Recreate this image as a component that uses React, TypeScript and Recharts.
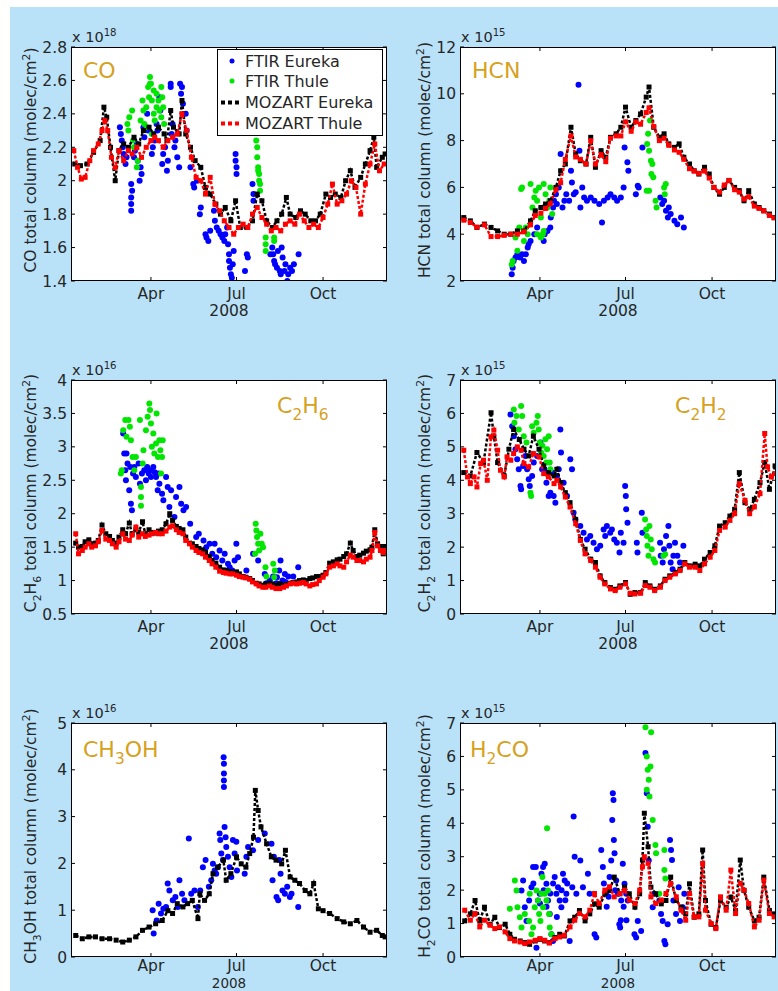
import React from 'react';
import { ScatterChart, Scatter, XAxis, YAxis } from 'recharts';

type Pt = [number, number];
type Seg = [string, number]; // text, 0 normal / 1 sub / -1 super

const FONT = '"DejaVu Sans", "Liberation Sans", Arial, sans-serif';
const INK = '#262626';
const GOLD = '#d6a11e';
const BG = '#b9e2f9';

// x axis: day of year 2008
const X_DOMAIN: [number, number] = [7, 343];
const MONTH_TICKS = [92, 183, 275];
const MONTH_LABELS = ['Apr', 'Jul', 'Oct'];
const YEAR = '2008';

// ---------------- CO ----------------
const coFtirEureka: Pt[] = [
  [59, 2.32], [60, 2.28], [61, 2.24], [62, 2.2], [63, 2.16], [65, 2.1], [66, 2.14], [71, 1.98], [71, 1.9], [71, 1.82],
  [71, 1.86], [72, 1.94], [74, 2.14], [75, 2.18], [77, 2.22], [78, 2.12], [80, 2.0], [81, 2.08], [82, 2.04], [84, 2.32],
  [85, 2.26], [88, 2.4], [89, 2.3], [93, 2.16], [94, 2.2], [96, 2.24], [98, 2.34], [99, 2.3], [101, 2.5], [102, 2.42],
  [104, 2.1], [105, 2.16], [107, 2.2], [109, 2.06], [110, 2.12], [113, 2.58], [113, 2.56], [114, 2.28], [115, 2.34],
  [117, 2.2], [118, 2.24], [120, 2.14], [122, 2.08], [123, 2.58], [124, 2.52], [125, 2.56], [126, 2.46], [129, 2.4],
  [130, 2.3], [134, 2.08], [137, 1.98], [138, 1.96], [141, 2.0], [144, 1.8], [145, 1.84], [150, 1.68], [151, 1.66],
  [153, 1.64], [155, 1.7], [159, 1.82], [160, 1.76], [162, 1.72], [164, 1.7], [166, 1.68], [168, 1.66], [170, 1.64],
  [171, 1.68], [173, 1.72], [174, 1.62], [175, 1.56], [175, 1.52], [176, 1.48], [177, 1.44], [178, 1.42], [179, 1.5],
  [180, 1.58], [182, 2.16], [182, 2.12], [183, 2.08], [183, 2.04], [192, 1.46], [194, 1.56], [195, 1.54], [200, 1.98],
  [201, 1.88], [201, 1.92], [219, 1.56], [221, 1.6], [222, 1.56], [223, 1.52], [224, 1.5], [226, 1.48], [227, 1.58],
  [229, 1.46], [230, 1.44], [231, 1.6], [232, 1.54], [234, 1.46], [235, 1.5], [237, 1.4], [238, 1.44], [240, 1.48],
  [242, 1.46], [244, 1.5], [249, 1.56],
];
const coFtirThule: Pt[] = [
  [67, 2.34], [68, 2.3], [69, 2.38], [72, 2.42], [73, 2.24], [74, 2.2], [77, 2.08], [78, 2.12], [81, 2.36], [83, 2.48],
  [84, 2.42], [85, 2.34], [87, 2.44], [88, 2.32], [89, 2.56], [90, 2.5], [91, 2.62], [91, 2.58], [92, 2.58], [93, 2.48],
  [93, 2.28], [95, 2.54], [95, 2.4], [96, 2.36], [98, 2.52], [98, 2.44], [100, 2.48], [101, 2.42], [103, 2.38],
  [103, 2.56], [104, 2.5], [105, 2.44], [106, 2.34], [204, 2.24], [205, 2.2], [205, 2.14], [206, 2.08], [206, 2.06],
  [207, 2.04], [207, 2.0], [208, 1.98], [208, 1.94], [214, 1.58], [214, 1.62], [214, 1.66], [223, 1.64], [223, 1.66],
];
const coMozEureka: Pt[] = [
  [11, 2.1], [17, 2.09], [24, 2.1], [31, 2.17], [38, 2.24], [42, 2.44], [45, 2.38], [49, 2.2], [54, 2.0], [58, 2.18],
  [63, 2.22], [68, 2.2], [74, 2.26], [79, 2.22], [84, 2.3], [90, 2.32], [95, 2.28], [100, 2.32], [106, 2.28],
  [109, 2.24], [113, 2.42], [116, 2.32], [122, 2.28], [125, 2.48], [129, 2.28], [134, 2.2], [139, 2.12], [145, 2.08],
  [150, 1.96], [155, 1.92], [161, 1.86], [166, 1.8], [171, 1.84], [177, 1.76], [182, 1.88], [187, 1.72], [194, 1.72],
  [200, 1.76], [205, 1.92], [210, 1.88], [215, 1.76], [221, 1.72], [226, 1.76], [231, 1.8], [236, 1.9], [240, 1.8],
  [246, 1.78], [251, 1.82], [256, 1.8], [262, 1.76], [267, 1.76], [272, 1.8], [278, 1.92], [283, 1.9], [288, 1.92],
  [294, 1.9], [299, 2.0], [304, 2.06], [309, 1.96], [315, 2.02], [320, 2.1], [325, 2.18], [329, 2.26], [332, 2.08],
  [338, 2.14], [341, 2.16],
];
const coMozThule: Pt[] = [
  [10, 2.18], [14, 2.08], [18, 2.01], [22, 2.02], [27, 2.12], [31, 2.18], [36, 2.22], [40, 2.3], [43, 2.36], [46, 2.3],
  [50, 2.14], [54, 2.08], [58, 2.18], [63, 2.12], [68, 2.18], [72, 2.16], [77, 2.2], [82, 2.14], [87, 2.2], [92, 2.24],
  [96, 2.26], [100, 2.24], [105, 2.2], [110, 2.24], [115, 2.26], [120, 2.28], [125, 2.4], [130, 2.3], [135, 2.14],
  [140, 2.02], [145, 2.0], [150, 1.92], [155, 2.02], [160, 1.86], [165, 1.82], [170, 1.76], [175, 1.72], [180, 1.68],
  [185, 1.72], [190, 1.74], [195, 1.72], [200, 1.8], [205, 1.84], [210, 1.78], [215, 1.74], [220, 1.7], [225, 1.72],
  [230, 1.7], [235, 1.74], [240, 1.76], [245, 1.74], [250, 1.8], [255, 1.76], [260, 1.72], [265, 1.74], [270, 1.72],
  [275, 1.78], [280, 1.86], [285, 1.98], [290, 1.86], [295, 1.88], [300, 1.92], [305, 2.0], [310, 1.96], [315, 1.8],
  [320, 1.98], [325, 2.1], [330, 2.22], [335, 2.06], [340, 2.1],
];

// ---------------- HCN ----------------
const hcnFtirEureka: Pt[] = [
  [62, 2.29], [63, 2.57], [64, 2.86], [66, 3.0], [68, 3.14], [71, 3.0], [73, 3.14], [75, 2.86], [77, 3.14], [79, 3.43],
  [80, 3.57], [82, 3.71], [86, 4.0], [89, 4.29], [96, 3.71], [97, 4.0], [100, 4.14], [103, 4.29], [103.5, 4.71],
  [106, 5.14], [107, 5.43], [109, 5.71], [110, 5.29], [112, 6.0], [114, 7.43], [116, 5.14], [118, 5.43], [120, 5.71],
  [123, 5.43], [125, 6.71], [126, 6.21], [128, 5.71], [130, 5.79], [133, 10.39], [134, 7.57], [135, 5.14], [137, 6.0],
  [139, 5.57], [142, 5.43], [146, 5.57], [150, 5.43], [155, 5.29], [158, 4.5], [160, 5.43], [164, 5.57], [167, 5.71],
  [171, 5.57], [174, 5.43], [178, 5.57], [181, 6.0], [182, 7.71], [185, 7.07], [186, 6.71], [194, 5.71], [196, 6.07],
  [197, 6.0], [201, 7.71], [220, 5.57], [222, 5.29], [224, 5.43], [226, 5.0], [228, 4.71], [229, 5.14], [231, 4.86],
  [235, 4.57], [238, 4.43], [242, 4.71], [245, 4.29],
];
const hcnFtirThule: Pt[] = [
  [62, 2.71], [63, 2.86], [66, 3.86], [68, 3.29], [70, 4.29], [72, 5.93], [73, 6.0], [75, 3.71], [77, 4.29], [79, 4.0],
  [82, 6.14], [84, 5.14], [86, 5.57], [87.5, 5.86], [89, 5.43], [89, 4.0], [91, 6.0], [93, 4.71], [93, 3.86], [95, 4.0],
  [96, 6.14], [96, 4.14], [98, 5.71], [100, 5.14], [102, 5.43], [103, 6.0], [105, 4.86], [205.5, 5.86], [206, 7.86],
  [207, 8.29], [208, 7.57], [208, 5.86], [209, 8.86], [210, 7.14], [210.5, 6.57], [211.5, 7.0], [212.5, 6.43],
  [215, 5.43], [216, 5.14], [224, 6.0], [224.7, 5.71], [225.8, 6.14],
];
const hcnMozEureka: Pt[] = [
  [11, 4.71], [18, 4.57], [25, 4.29], [33, 4.43], [40, 4.29], [47, 4.14], [54, 4.0], [61, 4.0], [68, 4.14], [75, 4.14],
  [82, 4.57], [87, 5.0], [93, 5.14], [98, 5.29], [103, 5.43], [109, 6.0], [114, 6.71], [119, 7.0], [125, 8.57],
  [130, 7.43], [135, 7.14], [141, 7.0], [146, 8.14], [151, 6.86], [157, 7.57], [162, 7.29], [167, 8.14], [173, 8.29],
  [178, 8.57], [183, 9.43], [189, 8.57], [194, 8.86], [199, 9.14], [205, 9.86], [208, 10.29], [213, 8.57], [219, 8.14],
  [224, 8.29], [229, 7.86], [235, 7.71], [240, 7.86], [245, 7.29], [251, 7.0], [256, 6.71], [261, 6.57], [267, 6.86],
  [272, 6.57], [277, 6.0], [283, 5.71], [288, 6.0], [293, 6.29], [299, 6.0], [304, 5.86], [309, 5.43], [314, 5.86],
  [320, 5.29], [325, 5.14], [330, 5.0], [336, 4.86], [341, 4.71],
];
const hcnMozThule: Pt[] = [
  [11, 4.6], [18, 4.5], [25, 4.3], [33, 4.4], [40, 3.9], [47, 3.9], [54, 3.95], [61, 4.0], [68, 4.0], [75, 4.1],
  [82, 4.4], [87, 4.8], [93, 4.9], [98, 5.1], [103, 5.3], [109, 5.9], [114, 6.2], [119, 7.2], [125, 8.2], [130, 7.3],
  [135, 7.2], [141, 7.0], [146, 8.0], [151, 7.0], [157, 7.4], [162, 7.1], [167, 8.1], [173, 8.2], [178, 8.2],
  [183, 8.8], [189, 8.4], [194, 8.8], [199, 8.7], [205, 9.2], [208, 9.4], [213, 8.6], [219, 8.0], [224, 8.1],
  [229, 7.8], [235, 7.6], [240, 7.5], [245, 7.2], [251, 6.8], [256, 6.7], [261, 6.6], [267, 6.7], [272, 6.4],
  [277, 6.0], [283, 5.8], [288, 6.1], [293, 6.3], [299, 5.9], [304, 5.8], [309, 5.5], [314, 5.6], [320, 5.2],
  [325, 5.1], [330, 5.0], [336, 4.8], [341, 4.7],
];

// ---------------- C2H6 ----------------
const c2h6FtirEureka: Pt[] = [
  [62.5, 3.2], [63.6, 2.9], [64.7, 2.65], [65.4, 2.5], [66, 2.9], [67.1, 2.75], [68.9, 2.35], [70, 2.7], [70.7, 2.15],
  [71.8, 2.05], [73, 2.6], [74.3, 2.7], [76, 2.55], [78.9, 2.75], [80.3, 2.45], [82.4, 2.6], [84.9, 2.65], [86.7, 2.5],
  [88, 2.7], [89.6, 2.6], [91, 2.65], [92, 2.55], [94.5, 2.7], [96, 2.62], [97.4, 2.55], [99.2, 2.35], [100, 2.6],
  [101, 2.45], [103.8, 2.3], [105.2, 2.2], [108.1, 2.55], [109.8, 2.4], [111.6, 2.1], [113.4, 2.35], [117, 1.95],
  [118.7, 2.25], [122.3, 2.4], [124.1, 2.15], [126.6, 2.05], [129.4, 2.1], [133.7, 1.85], [140.1, 1.65], [142.9, 1.7],
  [147.9, 1.6], [150.8, 1.5], [154.3, 1.55], [157.2, 1.4], [159.7, 1.55], [161.4, 1.35], [165, 1.45], [167.9, 1.3],
  [170.4, 1.4], [173.9, 1.25], [175.7, 1.2], [178.5, 1.15], [181, 1.3], [182.8, 1.55], [184.6, 1.35], [193.5, 1.15],
  [200.6, 1.4], [206, 1.3], [213, 1.1], [214.8, 0.96], [218.4, 1.0], [221.9, 1.06], [225.5, 0.96], [226, 1.05],
  [228.4, 1.15], [229.8, 1.3], [230, 0.95], [231.9, 1.0], [234.4, 1.1], [235, 0.98], [238, 1.06], [243.3, 1.06],
  [248.6, 1.2],
];
const c2h6FtirThule: Pt[] = [
  [60, 2.6], [61, 2.65], [62.5, 3.25], [64.7, 3.4], [66, 3.15], [68.2, 3.4], [69.6, 3.3], [70.7, 3.1], [72.5, 2.85],
  [74.3, 2.65], [76, 2.85], [80.3, 3.4], [81.4, 2.4], [81.4, 2.25], [81.4, 2.12], [83.2, 2.75], [84, 2.95], [86.7, 3.25],
  [88.5, 3.45], [90.3, 3.65], [91, 3.55], [92, 3.35], [93, 3.0], [94.5, 3.2], [95.6, 2.9], [97.4, 3.05], [98, 3.5],
  [99.5, 2.85], [101, 3.1], [102, 2.95], [102.7, 2.6], [103.8, 2.85], [104.5, 3.1], [202.7, 1.4], [203.4, 1.85],
  [204.1, 1.75], [204.8, 1.65], [206, 1.55], [207, 1.45], [208.4, 1.7], [209.8, 1.55], [211.2, 1.5], [213.8, 1.2],
  [214.8, 1.06], [222, 1.25], [223, 1.05], [223.7, 1.15],
];
const c2h6MozEureka: Pt[] = [
  [12, 1.56], [15, 1.5], [19, 1.51], [22, 1.58], [26, 1.61], [29, 1.55], [33, 1.56], [36, 1.6], [40, 1.83], [44, 1.7],
  [48, 1.66], [51, 1.6], [55, 1.56], [58, 1.65], [62, 1.76], [65, 1.7], [69, 1.86], [72, 1.7], [76, 1.76], [79, 1.72],
  [83, 1.88], [86, 1.7], [90, 1.76], [93, 1.72], [97, 1.71], [100, 1.74], [104, 1.76], [108, 1.85], [112, 2.0],
  [115, 1.9], [119, 1.81], [122, 1.78], [126, 1.76], [129, 1.65], [133, 1.56], [136, 1.55], [140, 1.51], [143, 1.48],
  [147, 1.46], [150, 1.42], [154, 1.36], [157, 1.3], [161, 1.26], [165, 1.2], [169, 1.16], [172, 1.15], [176, 1.13],
  [179, 1.12], [183, 1.13], [186, 1.1], [190, 1.06], [193, 1.05], [197, 1.03], [200, 1.0], [204, 0.96], [207, 0.95],
  [211, 0.93], [214, 0.95], [218, 0.96], [221, 0.95], [225, 0.93], [229, 0.95], [233, 0.93], [236, 0.94], [240, 0.96],
  [243, 0.97], [247, 0.98], [250, 1.0], [254, 1.01], [257, 1.0], [261, 1.03], [264, 1.04], [268, 1.06], [271, 1.06],
  [275, 1.08], [278, 1.12], [282, 1.26], [286, 1.28], [290, 1.31], [293, 1.32], [297, 1.36], [300, 1.4], [304, 1.56],
  [307, 1.45], [311, 1.36], [314, 1.38], [318, 1.41], [321, 1.44], [325, 1.46], [327, 1.5], [330, 1.76], [333, 1.55],
  [336, 1.51], [339, 1.4], [341, 1.51],
];
const c2h6MozThule: Pt[] = [
  [12, 1.7], [15, 1.4], [19, 1.45], [22, 1.5], [26, 1.55], [29, 1.5], [33, 1.52], [36, 1.58], [40, 1.75], [44, 1.62],
  [48, 1.6], [51, 1.55], [55, 1.5], [58, 1.58], [62, 1.7], [65, 1.62], [69, 1.6], [72, 1.68], [76, 1.8], [79, 1.65],
  [83, 1.7], [86, 1.66], [90, 1.68], [93, 1.7], [97, 1.72], [100, 1.7], [104, 1.7], [108, 1.74], [112, 1.8],
  [115, 1.82], [119, 1.76], [122, 1.72], [126, 1.7], [129, 1.6], [133, 1.55], [136, 1.5], [140, 1.45], [143, 1.42],
  [147, 1.4], [150, 1.35], [154, 1.3], [157, 1.25], [161, 1.2], [165, 1.14], [169, 1.12], [172, 1.11], [176, 1.1],
  [179, 1.1], [183, 1.08], [186, 1.06], [190, 1.05], [193, 1.04], [197, 1.02], [200, 0.98], [204, 0.95], [207, 0.92],
  [211, 0.9], [214, 0.9], [218, 0.92], [221, 0.9], [225, 0.88], [229, 0.88], [233, 0.9], [236, 0.92], [240, 0.95],
  [243, 0.96], [247, 0.95], [250, 0.96], [254, 0.97], [257, 0.95], [261, 0.92], [264, 0.94], [268, 0.95], [271, 1.0],
  [275, 1.05], [278, 1.1], [282, 1.2], [286, 1.22], [290, 1.25], [293, 1.22], [297, 1.2], [300, 1.28], [304, 1.38],
  [307, 1.35], [311, 1.3], [314, 1.3], [318, 1.28], [321, 1.32], [325, 1.35], [327, 1.45], [330, 1.72], [333, 1.52],
  [336, 1.45], [339, 1.42], [341, 1.45],
];

// ---------------- C2H2 ----------------
const c2h2FtirEureka: Pt[] = [
  [60.7, 5.97], [62.5, 5.62], [64.2, 5.32], [66, 4.93], [67.8, 4.63], [69.5, 4.33], [71.3, 3.83], [72, 3.73],
  [74.1, 4.43], [76.6, 4.73], [78.4, 4.33], [80.1, 4.03], [81.2, 3.83], [83.7, 4.13], [85.4, 4.53], [89, 4.73],
  [92.5, 5.13], [94.3, 4.33], [96.8, 4.33], [98.9, 3.93], [101.3, 3.53], [103.1, 3.63], [104.9, 4.23], [106.6, 3.53],
  [108.4, 3.33], [110.2, 4.13], [112, 4.33], [113.7, 5.52], [114.4, 4.83], [117.2, 3.93], [120.8, 3.53], [124.3, 4.63],
  [126.1, 4.33], [127.8, 3.03], [129.6, 2.83], [134.9, 2.63], [138.4, 2.43], [142, 2.23], [145.5, 2.33], [149, 2.13],
  [152.6, 1.94], [156.1, 2.04], [159.7, 2.53], [161.4, 2.33], [163.2, 2.63], [166.7, 2.43], [168.5, 2.53], [171, 2.23],
  [173.8, 2.13], [176.6, 1.84], [178, 2.43], [180.9, 2.13], [182.6, 3.83], [183.3, 3.53], [183.7, 3.13], [185.1, 2.73],
  [195, 2.13], [195.7, 1.84], [200.3, 3.03], [201, 2.43], [219.7, 2.13], [220.4, 1.74], [222.5, 1.54], [223.9, 1.94],
  [226.1, 2.33], [228.6, 2.63], [229.6, 2.04], [231, 1.54], [233.1, 1.34], [233.9, 1.74], [235.6, 2.13], [238.1, 1.74],
  [240.9, 1.54], [244.5, 2.04],
];
const c2h2FtirThule: Pt[] = [
  [64.2, 6.12], [64.9, 5.72], [67.1, 5.92], [69.5, 5.52], [72, 6.22], [73.1, 5.92], [74.8, 5.32], [77.7, 5.13],
  [81.9, 3.63], [82.6, 3.53], [83.7, 5.62], [85.4, 5.42], [88.3, 5.72], [89.7, 5.92], [90.7, 5.52], [91.8, 5.13],
  [93.2, 4.83], [94.6, 5.03], [96, 4.73], [97.8, 5.23], [98.9, 4.53], [99.6, 4.93], [101.3, 5.32], [102.4, 4.53],
  [103.1, 4.33], [203.8, 2.83], [204.9, 2.53], [205.6, 2.33], [206.3, 2.04], [207.4, 1.74], [208.4, 2.63], [209.8, 2.23],
  [210.9, 1.94], [212.7, 1.64], [214.4, 1.54], [223.3, 1.74], [225.1, 1.79],
];
const c2h2MozEureka: Pt[] = [
  [11, 4.23], [18, 4.13], [25, 4.83], [32, 4.53], [40, 6.02], [43, 5.32], [47, 4.53], [54, 4.13], [59, 4.93],
  [64, 5.52], [70, 5.22], [75, 4.93], [80, 4.73], [85, 5.32], [91, 4.93], [96, 4.43], [101, 4.23], [107, 4.13],
  [110, 4.33], [114, 3.93], [119, 3.63], [124, 3.33], [130, 2.83], [135, 2.23], [140, 1.94], [146, 1.64], [151, 1.54],
  [156, 1.14], [161, 0.94], [167, 0.79], [172, 0.74], [177, 0.84], [183, 0.94], [188, 0.59], [193, 0.64], [199, 0.64],
  [204, 0.94], [209, 0.84], [214, 0.74], [220, 0.84], [225, 1.04], [230, 1.14], [236, 1.24], [241, 1.34], [246, 1.54],
  [251, 1.44], [257, 1.49], [262, 1.44], [267, 1.64], [273, 1.84], [278, 2.04], [283, 2.63], [289, 2.73], [294, 2.93],
  [299, 3.13], [304, 4.23], [310, 3.33], [315, 3.13], [320, 3.43], [326, 3.93], [331, 4.53], [336, 3.73], [342, 4.43],
];
const c2h2MozThule: Pt[] = [
  [11, 4.9], [15, 4.1], [18, 3.9], [22, 4.1], [25, 3.8], [29, 4.5], [32, 4.6], [36, 4.0], [40, 5.3], [43, 5.5],
  [47, 4.9], [50, 4.3], [54, 4.1], [57, 4.7], [61, 4.6], [64, 4.8], [68, 5.0], [72, 4.9], [75, 4.5], [80, 4.4],
  [85, 4.8], [91, 4.7], [96, 4.2], [101, 4.1], [107, 3.9], [110, 4.0], [114, 3.8], [119, 3.5], [124, 3.2], [130, 2.7],
  [135, 2.2], [140, 1.8], [146, 1.6], [151, 1.4], [156, 1.1], [161, 0.9], [167, 0.75], [172, 0.7], [177, 0.8],
  [183, 0.9], [188, 0.62], [193, 0.6], [199, 0.62], [204, 0.85], [209, 0.8], [214, 0.7], [220, 0.8], [225, 1.0],
  [230, 1.1], [236, 1.2], [241, 1.3], [246, 1.5], [251, 1.4], [257, 1.4], [262, 1.3], [267, 1.5], [273, 1.7],
  [278, 1.9], [283, 2.5], [289, 2.6], [294, 2.8], [299, 3.0], [304, 3.9], [310, 3.4], [315, 3.0], [320, 3.2],
  [326, 3.6], [331, 5.4], [334, 4.4], [338, 4.1], [342, 4.2],
];

// ---------------- CH3OH ----------------
const ch3ohFtirEureka: Pt[] = [
  [93.8, 1.0], [94.9, 0.5], [98.1, 0.78], [100.2, 1.14], [102.7, 0.93], [105.2, 1.03], [108.1, 1.07], [109.8, 1.57],
  [111.6, 1.42], [115.2, 1.21], [118, 1.28], [120.5, 1.07], [122.3, 1.64], [125.1, 1.35], [127.6, 1.21], [132.3, 2.53],
  [134.8, 1.35], [138.3, 1.42], [141.9, 1.07], [144.4, 1.42], [147.2, 1.92], [150.1, 2.07], [153.6, 1.5], [156.1, 1.64],
  [157.9, 1.99], [159.7, 1.85], [161.4, 1.78], [163.2, 1.92], [165, 2.64], [165.7, 2.5], [166.8, 2.21], [168.6, 2.07],
  [169.3, 4.27], [169.6, 4.13], [169.6, 3.92], [169.6, 3.77], [169.6, 3.63], [170.3, 2.78], [171.4, 2.56], [172.1, 2.35],
  [173.9, 2.14], [175.7, 1.92], [177.5, 1.71], [179.2, 2.5], [181, 2.21], [182.8, 2.46], [183.5, 1.85], [191.7, 1.78],
  [193.5, 2.14], [195.3, 2.35], [200.6, 2.28], [206, 2.5], [213, 2.64], [220.2, 2.42], [221.3, 1.64], [222.7, 2.14],
  [225.5, 1.28], [227.3, 1.21], [228.4, 2.07], [229.8, 1.78], [231.9, 1.42], [234.4, 1.35], [236.9, 1.5], [239.7, 1.28],
  [241.5, 1.35], [248.6, 1.07],
];
const ch3ohMozEureka: Pt[] = [
  [12, 0.46], [19, 0.39], [26, 0.43], [33, 0.43], [40, 0.39], [48, 0.39], [55, 0.36], [62, 0.32], [69, 0.36],
  [76, 0.43], [83, 0.57], [90, 0.64], [97, 0.71], [104, 0.78], [110, 0.99], [115, 0.93], [120, 1.14], [126, 1.07],
  [131, 1.14], [136, 1.21], [142, 0.82], [144, 1.35], [149, 1.21], [154, 1.35], [158, 1.78], [163, 1.92], [169, 2.07],
  [172, 1.64], [177, 1.78], [183, 2.14], [188, 1.99], [193, 1.92], [197, 2.21], [201, 2.56], [203, 3.56], [206, 3.13],
  [209, 2.78], [215, 2.42], [220, 2.14], [225, 2.07], [231, 1.99], [235, 2.28], [240, 1.71], [245, 1.64], [250, 1.57],
  [256, 1.42], [261, 1.35], [265, 1.57], [270, 1.03], [275, 0.99], [282, 0.93], [290, 0.82], [297, 0.75], [304, 0.71],
  [311, 0.78], [318, 0.64], [325, 0.53], [332, 0.57], [338, 0.46], [341, 0.43],
];

// ---------------- H2CO ----------------
const h2coFtirEureka: Pt[] = [
  [72.4, 1.99], [74.1, 2.29], [75.9, 1.49], [77.7, 1.08], [80.5, 1.69], [83, 2.09], [84.7, 2.69], [85, 2.2],
  [87.6, 2.69], [88.3, 0.28], [90, 1.69], [91.8, 1.89], [92, 1.6], [93.6, 2.49], [95.3, 2.69], [96, 2.0], [97.1, 2.79],
  [98.9, 2.19], [99, 1.5], [100.6, 1.69], [102.4, 1.29], [103, 1.9], [104.2, 0.68], [105.9, 0.48], [106, 2.2],
  [107.7, 2.39], [109.5, 1.89], [110, 1.2], [111.2, 2.09], [113, 1.69], [114.8, 1.49], [115, 2.0], [116.5, 2.49],
  [118.3, 2.29], [119, 1.7], [120.1, 1.89], [121, 2.2], [123.6, 0.48], [126.4, 2.09], [127.8, 4.2], [128.9, 3.0],
  [130.7, 1.89], [134.9, 2.89], [137.7, 2.09], [143, 2.49], [144.8, 1.89], [150.1, 0.68], [151.9, 0.58], [157.2, 3.2],
  [158.9, 2.69], [160, 2.2], [162.5, 1.89], [163, 1.5], [165, 1.8], [166, 2.39], [167.8, 2.89], [168.9, 4.1],
  [169.5, 4.9], [170.2, 4.7], [170.6, 3.5], [171.3, 3.1], [172, 2.0], [173.1, 2.29], [174.8, 1.89], [176.4, 0.98],
  [177.3, 0.88], [178, 1.1], [178.4, 1.69], [180.1, 2.79], [181, 1.5], [181.9, 2.19], [183.7, 1.89], [184, 1.1],
  [185.4, 1.69], [192.5, 0.68], [194.3, 0.58], [196, 1.08], [199.6, 0.78], [204.2, 6.1], [205.6, 4.9], [206.6, 3.9],
  [207.7, 2.89], [211.9, 1.49], [213.7, 1.89], [219, 1.69], [220.8, 1.29], [222.5, 1.08], [224.3, 0.48], [225.4, 0.38],
  [227.8, 0.98], [230.3, 3.5], [231.4, 3.2], [232.4, 2.9], [233.9, 1.69], [236.7, 1.29], [239.5, 2.09], [240.9, 1.08],
  [243.7, 1.49], [245.5, 1.89],
];
const h2coFtirThule: Pt[] = [
  [60, 1.44], [65.3, 2.29], [67.1, 1.99], [68.1, 1.49], [70.6, 1.19], [72.4, 0.88], [75.9, 1.29], [80.5, 1.08],
  [81.2, 1.89], [83, 0.68], [84.7, 0.88], [86.5, 1.49], [88.3, 1.99], [90, 1.69], [91.1, 1.29], [92.5, 1.08],
  [93.6, 1.89], [94.6, 2.39], [95.3, 1.49], [97.1, 1.89], [98.9, 1.69], [99.6, 3.85], [100.6, 1.99], [101.7, 1.29],
  [102.4, 0.88], [104.2, 0.68], [204.2, 6.87], [205.6, 6.0], [205.6, 5.0], [206.6, 5.6], [207.7, 5.3], [208.5, 4.8],
  [209.5, 5.7], [210.2, 6.72], [211.9, 4.1], [214.8, 3.35], [215.5, 3.1], [219, 1.89], [224.3, 3.2], [224.3, 2.6],
  [225.4, 2.35],
];
const h2coMozEureka: Pt[] = [
  [12, 1.08], [18, 1.29], [23, 1.69], [28, 1.08], [33, 1.49], [39, 0.98], [44, 1.19], [49, 0.88], [55, 0.98],
  [60, 0.68], [65, 0.53], [71, 0.48], [76, 0.43], [81, 0.38], [87, 0.48], [92, 0.53], [97, 0.48], [102, 0.43],
  [108, 0.58], [113, 0.68], [118, 0.63], [124, 1.08], [129, 1.19], [134, 1.39], [140, 1.08], [145, 1.29], [150, 1.59],
  [155, 1.49], [161, 1.89], [166, 1.99], [171, 2.39], [177, 1.89], [182, 2.09], [187, 1.89], [193, 1.49], [198, 1.89],
  [201, 2.9], [203, 4.3], [207, 3.3], [210, 2.09], [215, 1.89], [221, 1.59], [226, 1.69], [231, 2.39], [237, 1.69],
  [242, 1.49], [247, 1.29], [251, 2.19], [256, 1.19], [261, 1.29], [265, 3.2], [268, 1.69], [274, 0.98], [279, 0.88],
  [284, 1.69], [290, 1.49], [295, 1.79], [300, 1.39], [305, 2.9], [309, 1.99], [314, 1.49], [320, 1.08], [325, 1.19],
  [330, 2.39], [336, 1.39], [341, 1.29],
];
const h2coMozThule: Pt[] = [
  [12, 1.4], [18, 1.1], [23, 1.3], [28, 0.9], [33, 1.1], [39, 0.95], [44, 0.85], [49, 0.9], [55, 0.75], [60, 0.55],
  [65, 0.48], [71, 0.45], [76, 0.4], [81, 0.45], [87, 0.5], [92, 0.55], [97, 0.5], [102, 0.42], [108, 0.55],
  [113, 0.6], [118, 0.65], [124, 0.9], [129, 1.1], [134, 1.3], [140, 1.2], [145, 1.4], [150, 1.9], [155, 1.6],
  [161, 2.0], [166, 2.1], [171, 1.8], [177, 1.9], [182, 2.0], [187, 1.7], [193, 1.6], [198, 2.0], [201, 2.7],
  [203, 3.0], [207, 2.8], [210, 1.8], [215, 1.6], [221, 1.7], [226, 1.9], [231, 2.2], [237, 1.8], [242, 1.4],
  [247, 1.1], [251, 1.9], [256, 1.2], [261, 1.2], [265, 2.8], [268, 1.4], [274, 1.0], [279, 0.85], [284, 1.8],
  [290, 1.4], [295, 2.6], [300, 1.3], [305, 2.2], [309, 2.0], [314, 1.6], [320, 0.9], [325, 1.1], [330, 2.3],
  [336, 1.3], [341, 1.2],
];

// ---------------- layout ----------------
const COLS = [71, 460];
const ROWS = [47, 380, 723];
const PW = 316;
const PH = 234;
const M_LEFT = 60;
const M_TOP = 40;
const M_BOTTOM = 40;
const M_RIGHT = 5;
const TICK = 4;
const PAGE_H = 991;

const SERIES = {
  ftirEureka: { name: 'FTIR Eureka', color: '#0000ff', kind: 'dot' },
  ftirThule: { name: 'FTIR Thule', color: '#00e600', kind: 'dot' },
  mozEureka: { name: 'MOZART Eureka', color: '#000000', kind: 'sq' },
  mozThule: { name: 'MOZART Thule', color: '#ff0000', kind: 'sq' },
} as const;
type SKey = keyof typeof SERIES;
const ORDER: SKey[] = ['ftirEureka', 'ftirThule', 'mozEureka', 'mozThule'];

interface PanelCfg {
  col: number;
  row: number;
  formula: Seg[];
  titleX: number;
  titleY: number;
  exp: string;
  yDomain: [number, number];
  yTicks: number[];
  data: Partial<Record<SKey, Pt[]>>;
}

const PANELS: PanelCfg[] = [
  {
    col: 0, row: 0, formula: [['CO', 0]], titleX: 83, titleY: 78, exp: '18',
    yDomain: [1.4, 2.8], yTicks: [1.4, 1.6, 1.8, 2, 2.2, 2.4, 2.6, 2.8],
    data: { ftirEureka: coFtirEureka, ftirThule: coFtirThule, mozEureka: coMozEureka, mozThule: coMozThule },
  },
  {
    col: 1, row: 0, formula: [['HCN', 0]], titleX: 472, titleY: 78, exp: '15',
    yDomain: [2, 12], yTicks: [2, 4, 6, 8, 10, 12],
    data: { ftirEureka: hcnFtirEureka, ftirThule: hcnFtirThule, mozEureka: hcnMozEureka, mozThule: hcnMozThule },
  },
  {
    col: 0, row: 1, formula: [['C', 0], ['2', 1], ['H', 0], ['6', 1]], titleX: 277, titleY: 413, exp: '16',
    yDomain: [0.5, 4], yTicks: [0.5, 1, 1.5, 2, 2.5, 3, 3.5, 4],
    data: { ftirEureka: c2h6FtirEureka, ftirThule: c2h6FtirThule, mozEureka: c2h6MozEureka, mozThule: c2h6MozThule },
  },
  {
    col: 1, row: 1, formula: [['C', 0], ['2', 1], ['H', 0], ['2', 1]], titleX: 675, titleY: 413, exp: '15',
    yDomain: [0, 7], yTicks: [0, 1, 2, 3, 4, 5, 6, 7],
    data: { ftirEureka: c2h2FtirEureka, ftirThule: c2h2FtirThule, mozEureka: c2h2MozEureka, mozThule: c2h2MozThule },
  },
  {
    col: 0, row: 2, formula: [['CH', 0], ['3', 1], ['OH', 0]], titleX: 83, titleY: 757, exp: '16',
    yDomain: [0, 5], yTicks: [0, 1, 2, 3, 4, 5],
    data: { ftirEureka: ch3ohFtirEureka, mozEureka: ch3ohMozEureka },
  },
  {
    col: 1, row: 2, formula: [['H', 0], ['2', 1], ['CO', 0]], titleX: 470, titleY: 757, exp: '15',
    yDomain: [0, 7], yTicks: [0, 1, 2, 3, 4, 5, 6, 7],
    data: { ftirEureka: h2coFtirEureka, ftirThule: h2coFtirThule, mozEureka: h2coMozEureka, mozThule: h2coMozThule },
  },
];

const fmt = (v: number) => String(Math.round(v * 10) / 10);

function Rich({ segs, size, ...rest }: { segs: Seg[]; size: number; [k: string]: any }) {
  let cur = 0;
  return (
    <text fontSize={size} {...rest}>
      {segs.map(([t, s], i) => {
        const shift = s === 1 ? size * 0.3 : s === -1 ? -size * 0.4 : 0;
        const dy = shift - cur;
        cur = shift;
        return (
          <tspan key={i} dy={dy} fontSize={s ? size * 0.7 : size}>
            {t}
          </tspan>
        );
      })}
    </text>
  );
}

function Panel({ p }: { p: PanelCfg }) {
  const left = COLS[p.col];
  const top = ROWS[p.row];
  // last row sits on the page edge: pull month labels up a little so "2008" fits below
  const labelDy = p.row === 2 ? 14 : 18;

  const xTick = (props: any) => {
    const { x, payload } = props;
    const i = MONTH_TICKS.indexOf(payload.value);
    return (
      <g>
        <line x1={x} x2={x} y1={M_TOP + PH} y2={M_TOP + PH - TICK} stroke="#000" />
        <line x1={x} x2={x} y1={M_TOP} y2={M_TOP + TICK} stroke="#000" />
        <text x={x} y={M_TOP + PH + labelDy} textAnchor="middle" fontSize={15.5} fill={INK} fontFamily={FONT}>
          {MONTH_LABELS[i]}
        </text>
      </g>
    );
  };
  const yTick = (props: any) => {
    const { y, payload } = props;
    return (
      <g>
        <line x1={M_LEFT} x2={M_LEFT + TICK} y1={y} y2={y} stroke="#000" />
        <line x1={M_LEFT + PW - TICK} x2={M_LEFT + PW} y1={y} y2={y} stroke="#000" />
        <text x={M_LEFT - 4} y={y + 5.5} textAnchor="end" fontSize={15.5} fill={INK} fontFamily={FONT}>
          {fmt(payload.value)}
        </text>
      </g>
    );
  };

  return (
    <div style={{ position: 'absolute', left: left - M_LEFT, top: top - M_TOP }}>
      <ScatterChart
        width={M_LEFT + PW + M_RIGHT}
        height={M_TOP + PH + M_BOTTOM}
        margin={{ top: M_TOP, right: M_RIGHT, bottom: 0, left: 0 }}
      >
        <XAxis
          type="number"
          dataKey="d"
          domain={X_DOMAIN}
          ticks={MONTH_TICKS}
          interval={0}
          allowDataOverflow
          height={M_BOTTOM}
          axisLine={false}
          tickLine={false}
          tick={xTick}
        />
        <YAxis
          type="number"
          dataKey="v"
          domain={p.yDomain}
          ticks={p.yTicks}
          interval={0}
          allowDataOverflow
          width={M_LEFT}
          axisLine={false}
          tickLine={false}
          tick={yTick}
        />
        {ORDER.filter((k) => p.data[k]).map((k) => {
          const s = SERIES[k];
          const rows = (p.data[k] as Pt[]).map(([d, v]) => ({ d, v }));
          const isDot = s.kind === 'dot';
          const shape = isDot
            ? (q: any) => <circle cx={q.cx} cy={q.cy} r={3} fill={s.color} />
            : (q: any) => <rect x={q.cx - 2.5} y={q.cy - 2.5} width={5} height={5} fill={s.color} />;
          return (
            <Scatter
              key={k}
              name={s.name}
              data={rows}
              isAnimationActive={false}
              shape={shape}
              line={isDot ? false : { stroke: s.color, strokeWidth: 2.5, strokeDasharray: '3 2' }}
            />
          );
        })}
      </ScatterChart>
    </div>
  );
}

function Legend() {
  const x0 = 217.5;
  const y0 = 49.5;
  const rows: { k: SKey; y: number }[] = [
    { k: 'ftirEureka', y: 61 },
    { k: 'ftirThule', y: 81 },
    { k: 'mozEureka', y: 102.5 },
    { k: 'mozThule', y: 123.5 },
  ];
  return (
    <g>
      <rect x={x0} y={y0} width={165} height={86} fill="#fff" stroke="#000" />
      {rows.map(({ k, y }) => {
        const s = SERIES[k];
        return (
          <g key={k}>
            {s.kind === 'dot' ? (
              <circle cx={232} cy={y} r={2.5} fill={s.color} />
            ) : (
              <line x1={221} x2={242} y1={y} y2={y} stroke={s.color} strokeWidth={4} strokeDasharray="4 3" />
            )}
            <text x={245} y={y + 5.5} fontSize={16} fill={INK} fontFamily={FONT}>
              {s.name}
            </text>
          </g>
        );
      })}
    </g>
  );
}

export default function App() {
  return (
    <div style={{ position: 'absolute', left: 0, top: 0, width: 778, height: PAGE_H, background: '#fff', overflow: 'hidden' }}>
      <div style={{ position: 'absolute', left: 10, top: 7, width: 768, height: PAGE_H - 7, background: BG }} />
      {PANELS.map((p, i) => (
        <div
          key={'bg' + i}
          style={{ position: 'absolute', left: COLS[p.col], top: ROWS[p.row], width: PW, height: PH, background: '#fff' }}
        />
      ))}
      {PANELS.map((p, i) => (
        <Panel key={i} p={p} />
      ))}
      <svg
        width={778}
        height={PAGE_H}
        style={{ position: 'absolute', left: 0, top: 0, pointerEvents: 'none' }}
        fontFamily={FONT}
      >
        {PANELS.map((p, i) => {
          const left = COLS[p.col];
          const top = ROWS[p.row];
          const cx = left + PW / 2;
          const cy = top + PH / 2 - 4;
          const bx = p.col === 0 ? 36 : 430;
          const lastRow = p.row === 2;
          const yearY = lastRow ? PAGE_H - 3.5 : top + PH + 35;
          const yearSize = lastRow ? 13.5 : 15.5;
          const ylab: Seg[] = [...p.formula, [' total column (molec/cm', 0], ['2', -1], [')', 0]];
          return (
            <g key={i}>
              <rect x={left + 0.5} y={top + 0.5} width={PW - 1} height={PH - 1} fill="none" stroke="#000" />
              <Rich segs={[['x 10', 0], [p.exp, -1]]} size={14.5} x={left + 1} y={top - 5} fill={INK} />
              <text x={cx} y={yearY} textAnchor="middle" fontSize={yearSize} fill={INK}>
                {YEAR}
              </text>
              <Rich
                segs={ylab}
                size={15.5}
                x={bx}
                y={cy}
                textAnchor="middle"
                transform={`rotate(-90 ${bx} ${cy})`}
                fill={INK}
              />
              <Rich segs={p.formula} size={22} x={p.titleX} y={p.titleY} fill={GOLD} />
            </g>
          );
        })}
        <Legend />
      </svg>
    </div>
  );
}
